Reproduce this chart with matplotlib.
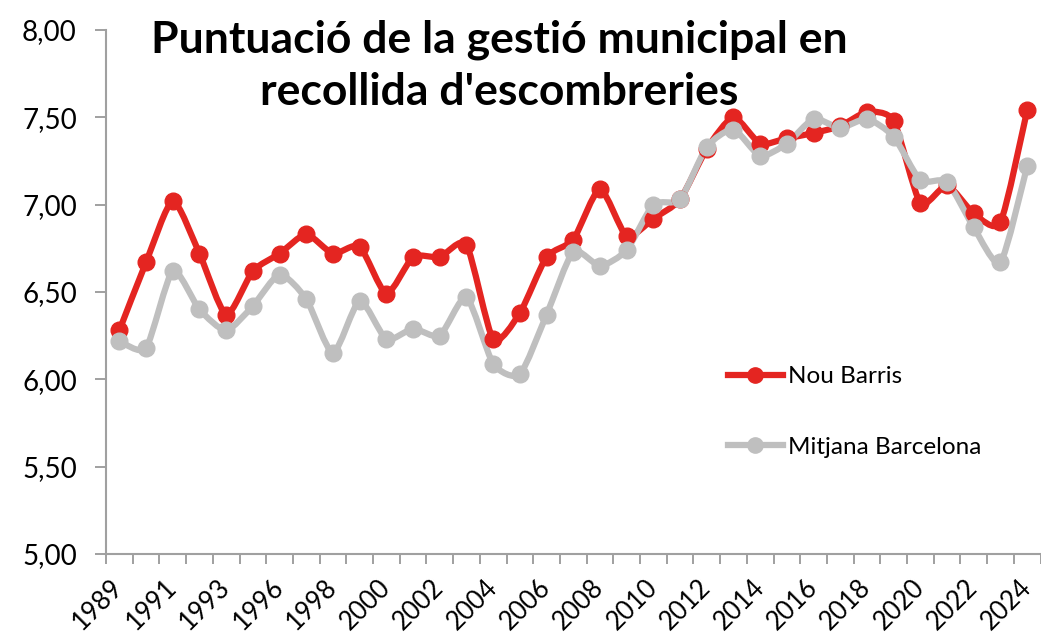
import matplotlib
matplotlib.use("Agg")
import matplotlib.pyplot as plt
from matplotlib.path import Path
from matplotlib.patches import PathPatch
from matplotlib.lines import Line2D
from matplotlib.transforms import ScaledTranslation
import numpy as np

plt.rcParams["font.family"] = ["Lato", "DejaVu Sans"]

years = ["1989", "1990", "1991", "1992", "1993", "1995", "1996", "1997", "1998", "1999",
         "2000", "2001", "2002", "2003", "2004", "2005", "2006", "2007", "2008", "2009",
         "2010", "2011", "2012", "2013", "2014", "2015", "2016", "2017", "2018", "2019",
         "2020", "2021", "2022", "2023", "2024"]
nou_barris = [6.28, 6.67, 7.02, 6.72, 6.37, 6.62, 6.72, 6.83, 6.72, 6.76,
              6.49, 6.70, 6.70, 6.77, 6.23, 6.38, 6.70, 6.80, 7.09, 6.82,
              6.92, 7.03, 7.32, 7.50, 7.35, 7.38, 7.41, 7.45, 7.53, 7.48,
              7.01, 7.11, 6.95, 6.90, 7.54]
mitjana_bcn = [6.22, 6.18, 6.62, 6.40, 6.28, 6.42, 6.60, 6.46, 6.15, 6.45,
               6.23, 6.29, 6.25, 6.47, 6.09, 6.03, 6.37, 6.73, 6.65, 6.74,
               7.00, 7.03, 7.33, 7.43, 7.28, 7.35, 7.49, 7.44, 7.49, 7.39,
               7.14, 7.13, 6.87, 6.67, 7.22]
shown_labels = ["1989", "1991", "1993", "1996", "1998", "2000", "2002", "2004", "2006",
                "2008", "2010", "2012", "2014", "2016", "2018", "2020", "2022", "2024"]

RED = "#E42521"
GREY = "#BFBFBF"
AXIS = "#A0A0A0"


def smooth_path(xs, ys, k=9.0):
    # smoothed line like Excel: cubic bezier going through every point
    pts = np.column_stack([xs, ys])
    n = len(pts)
    verts = [pts[0]]
    codes = [Path.MOVETO]
    for i in range(n - 1):
        p0 = pts[max(i - 1, 0)]
        p1 = pts[i]
        p2 = pts[i + 1]
        p3 = pts[min(i + 2, n - 1)]
        verts += [p1 + (p2 - p0) / k, p2 - (p3 - p1) / k, p2]
        codes += [Path.CURVE4] * 3
    return Path(verts, codes)


fig = plt.figure(figsize=(10.41, 6.33), dpi=100)
ax = fig.add_axes([106 / 1041, 79 / 633, 934.5 / 1041, 524 / 633])

x = np.arange(len(years))
for vals, color in [(nou_barris, RED), (mitjana_bcn, GREY)]:
    ax.add_patch(PathPatch(smooth_path(x, vals), facecolor="none", edgecolor=color,
                           lw=4.5, capstyle="round", joinstyle="round"))
    ax.plot(x, vals, "o", color=color, markersize=12, zorder=3)

ax.set_xlim(-0.5, len(years) - 0.5)
ax.set_ylim(5, 8)
yt = np.arange(5, 8.01, 0.5)
ax.set_yticks(yt)
ax.set_yticklabels([f"{v:.2f}".replace(".", ",") for v in yt], fontsize=20)

# ticks on category boundaries, labels on every second category
ax.set_xticks(np.arange(-0.5, len(years), 1.0))
ax.set_xticklabels([])
lab_pos = [years.index(y) for y in shown_labels]
ax.set_xticks(lab_pos, minor=True)
ax.set_xticklabels(shown_labels, minor=True, rotation=45, ha="right", va="center",
                   rotation_mode="anchor", fontsize=18.5)
shift = ScaledTranslation(0.15, 0, fig.dpi_scale_trans)
for lab in ax.get_xticklabels(minor=True):
    lab.set_transform(lab.get_transform() + shift)
ax.tick_params(axis="x", which="minor", length=0, pad=21)
ax.tick_params(axis="x", which="major", length=7, width=1.4, color=AXIS)
ax.tick_params(axis="y", length=8, width=1.4, color=AXIS, pad=13)

for s in ["top", "right"]:
    ax.spines[s].set_visible(False)
for s in ["left", "bottom"]:
    ax.spines[s].set_color(AXIS)
    ax.spines[s].set_linewidth(1.5)

handles = [Line2D([], [], color=RED, lw=4.5, marker="o", markersize=11),
           Line2D([], [], color=GREY, lw=4.5, marker="o", markersize=11)]
ax.legend(handles, ["Nou Barris", "Mitjana Barcelona"], loc="center left",
          bbox_to_anchor=(0.642, 0.271), frameon=False, fontsize=17.5,
          labelspacing=2.05, handlelength=2.26, handletextpad=0.2)

fig.text(499 / 1041, 1 - 66 / 633, "Puntuació de la gestió municipal en\nrecollida d'escombreries",
         ha="center", va="center", fontsize=32, fontweight="bold", linespacing=1.35)

fig.savefig("out.png", dpi=100)
